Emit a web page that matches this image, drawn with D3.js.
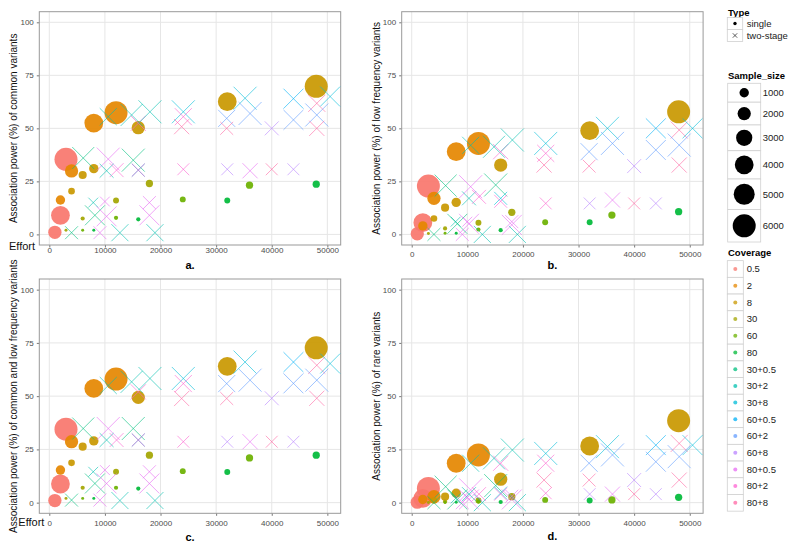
<!DOCTYPE html>
<html><head><meta charset="utf-8">
<script src="https://cdn.jsdelivr.net/npm/d3@7"></script>
<style>body{margin:0;background:#fff} svg{display:block} text{font-family:"Liberation Sans",Arial,sans-serif}</style>
</head><body><svg id="chart" width="800" height="547"></svg>
<script>
// ---------------- data ----------------
const coverageLevels = ["0.5","2","8","30","60","80","30+0.5","30+2","30+8","60+0.5","60+2","60+8","80+0.5","80+2","80+8"];
const typeLevels = ["single","two-stage"];
const sampleBreaks = [1000,2000,3000,4000,5000,6000];
const xTicks = [0,10000,20000,30000,40000,50000];
const yTicks = [0,25,50,75,100];
const panelLabels = ["a.","b.","c.","d."];
const yTitles = ["Association power (%) of common variants",
                 "Association power (%) of low frequency variants",
                 "Association power (%) of common and low frequency variants",
                 "Association power (%) of rare variants"];

// single-stage designs
const singleCoverage = ["0.5","0.5","0.5","2","2","2","2","8","8","8","8","8","8","30","30","30","30","60","60","60","60","80","80","80","80"];
const singleSample   = [2000,4000,6000,1000,2000,4000,6000,500,750,1000,2000,4000,6000,100,200,400,600,100,200,400,600,100,200,400,600];
const singleEffort   = [1000,2000,3000,2000,4000,8000,12000,4000,6000,8000,16000,32000,48000,3000,6000,12000,18000,6000,12000,24000,36000,8000,16000,32000,48000];
const singlePowerA = [1,9,35.4,16.2,29.9,52.5,57.4,20.4,28,31,50.3,62.6,69.8,2,7.5,16,24,2,7.8,16.5,23.2,2,7.1,16,23.7];
const singlePowerB = [0.3,5.5,22.8,4,17,39,42.9,7.5,12.6,15.1,32.7,48.9,57.8,0.4,2.8,5.5,10.4,0.5,2.3,5.7,9.1,0.5,2,5.7,10.7];
const singlePowerC = [1,8.75,34.5,15.3,28.6,53.6,58,18.7,26.3,29,49.4,64,72.7,2,7,14.5,22.3,2,7,14.8,21,2,6.6,14.4,22.3];
const singlePowerD = [0.2,2,6.7,1.5,2.8,18.5,22.4,1,2.8,4.4,11,26.6,38.5,0.1,0.5,1,2.8,0.1,0.5,1.3,1.3,0.2,0.3,1,2.5];

// two-stage designs
const twoCoverage = ["30+0.5","80+0.5","30+2","30+2","30+2","80+0.5","30+0.5","80+0.5","80+0.5","80+0.5",
                     "30+0.5","80+0.5","30+0.5","30+2","80+2","30+8","80+2","80+2","60+8","80+0.5",
                     "80+8","60+8","30+2","30+2","80+2","30+2","30+8","80+2","80+8","60+2",
                     "80+8","30+8","60+2","60+8","60+0.5","60+2","80+8","60+2","80+8","30+8"];
const twoSample = [1900,1900,3300,3300,1100,1100,4500,4500,1900,4500,
                   5500,6000,6000,2200,2200,1900,1900,1600,1600,2600,
                   1600,1600,3300,5500,2600,6000,6000,3300,2600,3300,
                   1900,6000,6000,2200,4500,4500,3300,6000,2600,4500];
const twoEffort = [4000,9100,12700,19000,7900,10000,8200,10300,18000,18000,
                   6100,10600,15100,10300,12100,16000,16000,24100,32000,36100,
                   40000,43900,10600,14800,16000,18100,24100,24100,23800,31900,
                   31900,35200,36100,40000,43900,43900,48100,48100,48100,50500];
const twoPowerA = [0.8,0.8,0.8,0.8,15,15.5,9,8.5,15,9,
                   36,35.5,35,30,30.3,30.3,30.3,30.7,30.7,30,
                   30.7,30.7,55.5,56.3,52.4,57.8,57.8,55.5,50.8,54.7,
                   50,64.2,57,50,64,54,61.8,56.3,50,65];
const twoPowerB = [0,0,0,0,6,6,5,5,6,4.5,
                   23,22.5,23.3,17,17.7,17,15.6,14.6,14.6,16.2,
                   14.6,14.6,42,41.3,39,44.5,42.9,38.2,32.7,39,
                   32.2,50,42.9,32.2,50,39.8,49.2,42.1,32.7,50];
const twoPowerC = [1.2,1.2,1,1,14.5,15.3,9,9,14.5,9,
                   34.8,34.8,34.8,29.4,29.4,29.4,29.4,28.6,28.6,28.6,
                   28.6,28.6,55,56.7,52,58.3,58.3,55.9,48.9,55.9,
                   48.9,66,57.5,49,66,56,64.5,57.5,49,65.3];
const twoPowerD = [0,0,0,0,2,2.5,1.5,1.5,3,1.5,
                   7.5,6,8,4,4,4.5,4,4.4,4,4,
                   4,4,18.5,20.8,18.5,24.7,23.1,18.5,10.6,18.5,
                   10.6,26.3,22.4,10.6,27,19.2,27.8,21.6,10.6,27];

// ---------------- styles ----------------
const palette = ["#F8766D","#E58700","#C99800","#A3A500","#6BB100","#00BA38","#00BF7D","#00C0AF","#00BCD8","#00B0F6","#619CFF","#B983FF","#E76BF3","#FD61D1","#FF67A4"];
const color = d3.scaleOrdinal().domain(coverageLevels).range(palette);
const rScale = d3.scaleSqrt().domain([0,6000]).range([0,11.5]);

const singles = singleEffort.map((e,i)=>({effort:e, cov:singleCoverage[i], n:singleSample[i],
  p:[singlePowerA[i],singlePowerB[i],singlePowerC[i],singlePowerD[i]]}));
const twos = twoEffort.map((e,i)=>({effort:e, cov:twoCoverage[i], n:twoSample[i],
  p:[twoPowerA[i],twoPowerB[i],twoPowerC[i],twoPowerD[i]]}));

const svg = d3.select("#chart");
svg.append("rect").attr("width",800).attr("height",547).attr("fill","#fff");

const PW = 301.4;
const panels = [
  {left:39.3, top:11.7, h:233.3, lab:4.3, titleOff:20, yTitleX:13.3},
  {left:401.7, top:11.7, h:233.3, lab:8.3, titleOff:20, yTitleX:376.7},
  {left:39.3, top:279, h:234.3, lab:8.4, titleOff:24, yTitleX:13.3},
  {left:401.7, top:279, h:234.3, lab:8.4, titleOff:23, yTitleX:376.7}
];

panels.forEach((P,k)=>{
  const x = d3.scaleLinear().domain([-1800,52400]).range([P.left, P.left+PW]);
  const y = d3.scaleLinear().domain([-5,105]).range([P.top+P.h, P.top]);
  const g = svg.append("g");
  g.selectAll(".vg").data(xTicks).enter().append("line")
    .attr("x1",d=>x(d)).attr("x2",d=>x(d)).attr("y1",P.top).attr("y2",P.top+P.h)
    .attr("stroke","#e6e6e6").attr("stroke-width",1);
  g.selectAll(".hg").data(yTicks).enter().append("line")
    .attr("x1",P.left).attr("x2",P.left+PW).attr("y1",d=>y(d)).attr("y2",d=>y(d))
    .attr("stroke","#e6e6e6").attr("stroke-width",1);
  const xa = g.append("g").attr("transform",`translate(0,${P.top+P.h})`)
    .call(d3.axisBottom(x).tickValues(xTicks).tickFormat(d3.format("d")).tickSize(2.5).tickPadding(P.lab-4.2));
  const ya = g.append("g").attr("transform",`translate(${P.left},0)`)
    .call(d3.axisLeft(y).tickValues(yTicks).tickSize(2.5).tickPadding(3));
  [xa,ya].forEach(a=>{
    a.select(".domain").remove();
    a.selectAll(".tick line").attr("stroke","#777");
    a.selectAll(".tick text").attr("fill","#4d4d4d").style("font-size","8px").style("font-family","Liberation Sans, Arial, sans-serif");
  });
  g.append("rect").attr("x",P.left).attr("y",P.top).attr("width",PW).attr("height",P.h)
    .attr("fill","none").attr("stroke","#999").attr("stroke-width",1);
  g.selectAll(".s").data(singles).enter().append("circle")
    .attr("cx",d=>x(d.effort)).attr("cy",d=>y(d.p[k])).attr("r",d=>rScale(d.n))
    .attr("fill",d=>color(d.cov)).attr("fill-opacity",0.92);
  g.selectAll(".t").data(twos).enter().append("path")
    .attr("d",d=>{const cx=x(d.effort), cy=y(d.p[k]), h=rScale(d.n);
      return `M${cx-h},${cy-h}L${cx+h},${cy+h}M${cx-h},${cy+h}L${cx+h},${cy-h}`;})
    .attr("stroke",d=>color(d.cov)).attr("stroke-width",1).attr("stroke-opacity",0.6).attr("fill","none");
  const cy = P.top + P.h/2;
  g.append("text").attr("transform",`translate(${P.yTitleX},${cy}) rotate(-90)`)
    .attr("text-anchor","middle").attr("dy","0.35em").style("font-size","10px").attr("fill","#111")
    .text(yTitles[k]);
  g.append("text").attr("x",P.left+PW/2).attr("y",P.top+P.h+P.titleOff).attr("dy","0.35em")
    .attr("text-anchor","middle").style("font-size","11px").style("font-weight","bold").text(panelLabels[k]);
});
svg.append("text").attr("x",9).attr("y",246.5).attr("dy","0.35em").style("font-size","11px").attr("fill","#111").text("Effort");
svg.append("text").attr("x",18.3).attr("y",521.7).attr("dy","0.35em").style("font-size","11px").attr("fill","#111").text("Effort");

// ---------------- legends ----------------
const L = svg.append("g");
const keyStroke = "#d0d0d0";
function title(t,yc){L.append("text").attr("x",728).attr("y",yc).attr("dy","0.35em")
  .style("font-size","9.5px").style("font-weight","bold").text(t);}
function label(t,xp,yc){L.append("text").attr("x",xp).attr("y",yc).attr("dy","0.35em")
  .style("font-size","9.5px").attr("fill","#222").text(t);}
title("Type",12.5);
typeLevels.forEach((t,i)=>{
  const kt = 17.5 + i*12, yc = kt+6;
  L.append("rect").attr("x",727.3).attr("y",kt).attr("width",15.4).attr("height",12)
    .attr("fill","#fff").attr("stroke",keyStroke).attr("stroke-width",0.8);
  if(i===0) L.append("circle").attr("cx",735).attr("cy",yc).attr("r",1.7).attr("fill","#000");
  else L.append("path").attr("d",`M${732.8},${yc-2.2}L${737.2},${yc+2.2}M${732.8},${yc+2.2}L${737.2},${yc-2.2}`)
    .attr("stroke","#333").attr("stroke-width",0.8);
  label(t,746.7,yc);
});
title("Sample_size",76);
let keyTop = 83.3;
sampleBreaks.forEach(n=>{
  const r = rScale(n), hgt = Math.max(16, 2*r+9.5);
  const yc = keyTop + hgt/2;
  L.append("rect").attr("x",727.7).attr("y",keyTop).attr("width",33).attr("height",hgt)
    .attr("fill","#fff").attr("stroke",keyStroke).attr("stroke-width",0.8);
  L.append("circle").attr("cx",744.2).attr("cy",yc).attr("r",r).attr("fill","#000");
  label(String(n),762.7,yc);
  keyTop += hgt;
});
title("Coverage",252.7);
coverageLevels.forEach((c,i)=>{
  const yc = 269 + i*16.7;
  L.append("rect").attr("x",727.3).attr("y",yc-8.35).attr("width",16).attr("height",16.7)
    .attr("fill","#fff").attr("stroke",keyStroke).attr("stroke-width",0.8);
  L.append("circle").attr("cx",735.3).attr("cy",yc).attr("r",2).attr("fill",color(c)).attr("fill-opacity",0.75);
  label(c,746.7,yc);
});
</script></body></html>
